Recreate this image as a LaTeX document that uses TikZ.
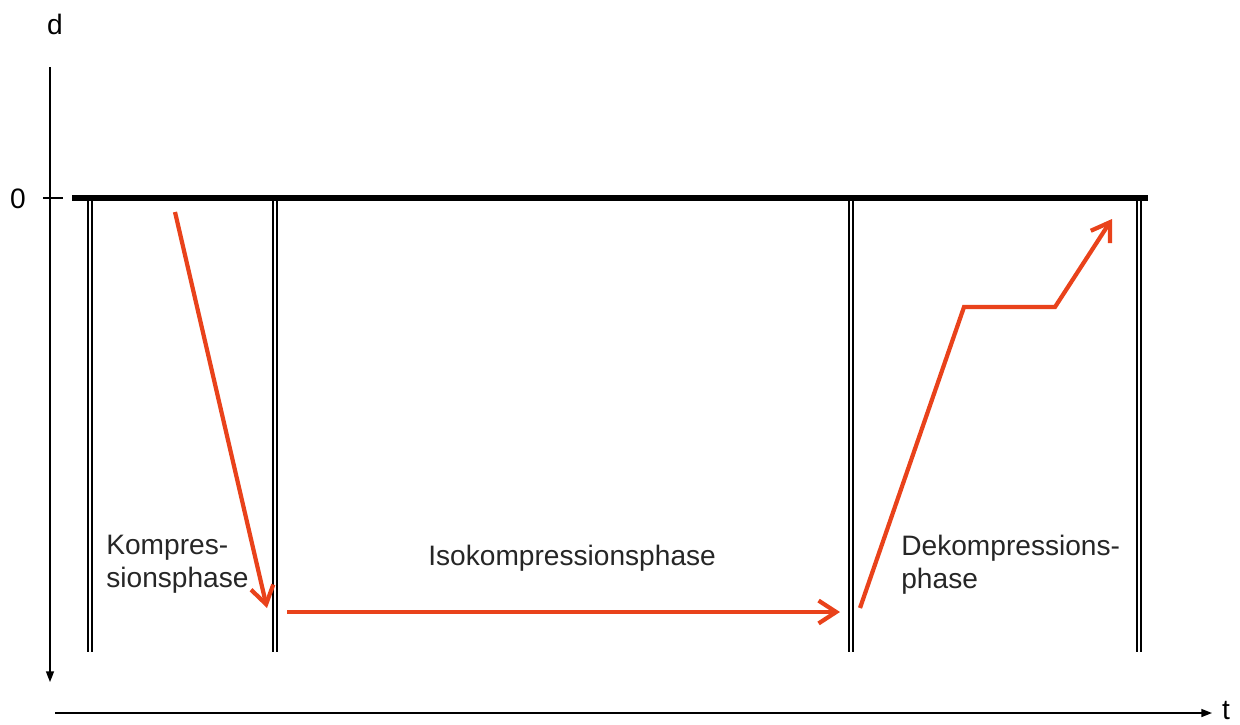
\documentclass[tikz,border=0pt]{standalone}
\usepackage{fontspec}
\setmainfont{Liberation Sans}
\usetikzlibrary{arrows.meta}

\definecolor{phasered}{RGB}{233,66,27}
\tikzset{
  phaseline/.style={draw=black,line width=0.8pt,double=white,double distance=1.6pt},
  redarrow/.style={phasered,line width=2.4pt,line join=miter,-{Straight Barb[length=10pt,width=13pt]}},
  axisline/.style={line width=0.8pt,-{Triangle[length=6pt,width=4.5pt]}},
  phasetext/.style={font=\fontsize{16}{18.5}\selectfont,inner sep=0pt,align=left,text=black!85},
  axislabel/.style={font=\fontsize{16}{18.5}\selectfont,inner sep=0pt}
}

\begin{document}
\begin{tikzpicture}[x=0.02cm,y=-0.02cm]
    \useasboundingbox (0,0) rectangle (1240,724);
    % axes
    \coordinate (dtop) at (50,67);
    \coordinate (dend) at (50,682);
    \coordinate (tstart) at (55,713);
    \coordinate (tend) at (1212,713);
    \draw[axisline] (dtop) -- (dend);
    \draw[axisline] (tstart) -- (tend);
    \node[axislabel] (dlab) at (55,24) {d};
    \node[axislabel] (tlab) at (1226,711) {t};
    \node[axislabel] (zerolab) at (18,199) {0};
    \coordinate (tickl) at (43,198);
    \coordinate (tickr) at (63,198);
    \draw[line width=0.8pt] (tickl) -- (tickr);
    % zero line
    \coordinate (zl) at (72,198);
    \coordinate (zr) at (1148,198);
    \draw[line width=3.4pt] (zl) -- (zr);
    % phase borders
    \foreach \x/\n in {90/a,275/b,851/c,1139/e}{
      \coordinate (top\n) at (\x,201);
      \coordinate (bot\n) at (\x,652);
      \draw[phaseline] (top\n) -- (bot\n);
    }
    % red arrows
    \coordinate (k1) at (175,212);
    \coordinate (k2) at (267,608);
    \coordinate (i1) at (287,612);
    \coordinate (i2) at (840,612);
    \coordinate (d1) at (860,608);
    \coordinate (d2) at (964,307);
    \coordinate (d3) at (1055,307);
    \coordinate (d4) at (1112,219);
    \draw[redarrow] (k1) -- (k2);
    \draw[redarrow] (i1) -- (i2);
    \draw[redarrow] (d1) -- (d2) -- (d3) -- (d4);
    % phase names
    \node[phasetext,anchor=north west] (kompr) at (106,535) {Kompres-\\sionsphase};
    \node[phasetext,anchor=base west] (iso) at (428,565) {Isokompressionsphase};
    \node[phasetext,anchor=north west] (dekompr) at (901,535) {Dekompressions-\\phase};
\end{tikzpicture}
\end{document}
